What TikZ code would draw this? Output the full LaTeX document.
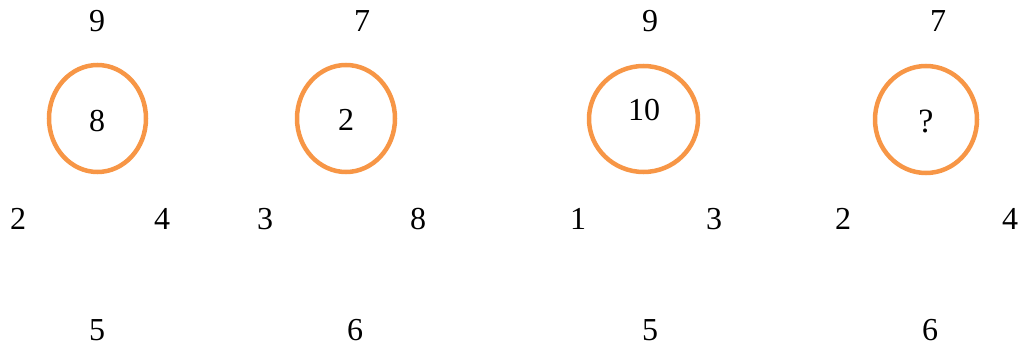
\documentclass[tikz,border=0pt]{standalone}
\usepackage{fontspec}
\setmainfont{Liberation Serif}
\definecolor{ringorange}{HTML}{F79646}
\begin{document}
\begin{tikzpicture}[x=1pt,y=-1pt,
  num/.style={font=\fontsize{32}{38}\selectfont,inner sep=0pt,anchor=center},
  qmark/.style={font=\fontsize{34}{40}\selectfont,inner sep=0pt,anchor=center},
  ring/.style={draw=ringorange,line width=4.5pt,fill=none}]
\useasboundingbox (0,0) rectangle (1026,347);
% group 1
\draw[ring] (97.5,118.5) ellipse [x radius=48.5,y radius=53.5];
\node[num] (a1) at (97,21) {9};
\node[num] (a2) at (97,121) {8};
\node[num] (a3) at (18,219) {2};
\node[num] (a4) at (162,219) {4};
\node[num] (a5) at (97,330) {5};
% group 2
\draw[ring] (346,118.5) ellipse [x radius=49,y radius=53.5];
\node[num] (b1) at (362,21) {7};
\node[num] (b2) at (346,120) {2};
\node[num] (b3) at (265,219) {3};
\node[num] (b4) at (418,219) {8};
\node[num] (b5) at (355,330) {6};
% group 3
\draw[ring] (643.5,119) ellipse [x radius=54.5,y radius=53];
\node[num] (c1) at (650,21) {9};
\node[num] (c2) at (644,110) {10};
\node[num] (c3) at (578,219) {1};
\node[num] (c4) at (714,219) {3};
\node[num] (c5) at (650,330) {5};
% group 4
\draw[ring] (926,119.5) ellipse [x radius=51,y radius=53.5];
\node[num] (d1) at (938,21) {7};
\node[qmark] (d2) at (926,121) {?};
\node[num] (d3) at (843,219) {2};
\node[num] (d4) at (1010,219) {4};
\node[num] (d5) at (930,330) {6};
\end{tikzpicture}
\end{document}
